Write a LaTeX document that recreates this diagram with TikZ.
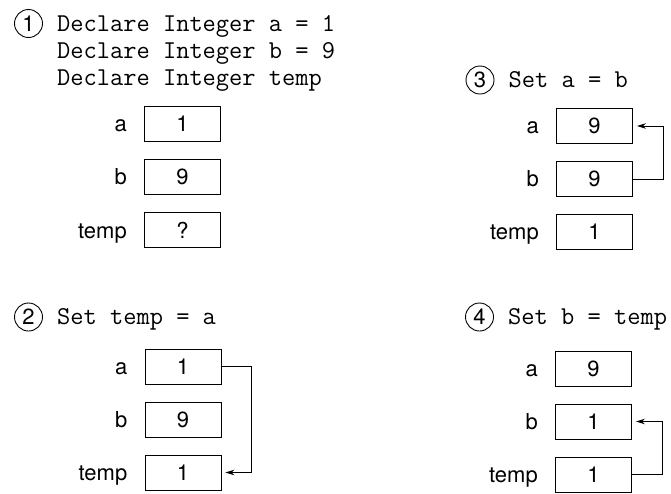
\documentclass[tikz,border=0pt]{standalone}
\usepackage{fontspec}
\setmainfont{TeX Gyre Heros}
\usetikzlibrary{positioning,arrows.meta}

\tikzset{
  var/.style={draw, line width=0.9pt, minimum width=76pt, minimum height=35pt,
    inner sep=0pt, font=\fontsize{22}{26}\selectfont},
  vname/.style={inner sep=0pt, font=\fontsize{22}{26}\selectfont},
  code/.style={inner sep=0pt, anchor=base west, font=\fontsize{25.7}{27}\selectfont\ttfamily},
  stepnum/.style={draw, circle, line width=0.9pt, minimum size=28pt, inner sep=0pt,
    font=\fontsize{22}{25}\selectfont},
  move/.style={line width=0.9pt, -{Stealth[length=9pt,width=5.5pt]}, shorten >=4pt},
}

\begin{document}
\begin{tikzpicture}[x=1pt,y=-1pt]
\useasboundingbox (0,0) rectangle (671,493);

% step 1
\node[stepnum] (n1) at (28.5,23.5) {1};
\node[code, base right=14pt of n1] (c1) {Declare Integer a = 1};
\node[code] (c1b) at ([yshift=-27pt]c1.base west) {Declare Integer b = 9};
\node[code] (c1c) at ([yshift=-27pt]c1b.base west) {Declare Integer temp};
\node[var] (a1) at (182.5,124) {1};
\node[var] (b1) at (182.5,177) {9};
\node[var] (t1) at (182.5,230) {?};
\node[vname, base left=17pt of a1] {a};
\node[vname, base left=17pt of b1] {b};
\node[vname, base left=17pt of t1] {temp};

% step 2
\node[stepnum] (n2) at (28.5,317) {2};
\node[code, base right=14pt of n2] (c2) {Set temp = a};
\node[var] (a2) at (183,366.5) {1};
\node[var] (b2) at (183,419.5) {9};
\node[var] (t2) at (183,472.5) {1};
\node[vname, base left=17pt of a2] {a};
\node[vname, base left=17pt of b2] {b};
\node[vname, base left=17pt of t2] {temp};
\draw[move] (a2.east) -- ++(30,0) |- (t2.east);

% step 3
\node[stepnum] (n3) at (480,80) {3};
\node[code, base right=14pt of n3] (c3) {Set a = b};
\node[var] (a3) at (594.5,126) {9};
\node[var] (b3) at (594.5,179) {9};
\node[var] (t3) at (594.5,232) {1};
\node[vname, base left=17pt of a3] {a};
\node[vname, base left=17pt of b3] {b};
\node[vname, base left=17pt of t3] {temp};
\draw[move] (b3.east) -- ++(30,0) |- (a3.east);

% step 4
\node[stepnum] (n4) at (479.5,317) {4};
\node[code, base right=14pt of n4] (c4) {Set b = temp};
\node[var] (a4) at (593.5,369) {9};
\node[var] (b4) at (593.5,421.5) {1};
\node[var] (t4) at (593.5,474.5) {1};
\node[vname, base left=17pt of a4] {a};
\node[vname, base left=17pt of b4] {b};
\node[vname, base left=17pt of t4] {temp};
\draw[move] (t4.east) -- ++(30,0) |- (b4.east);
\end{tikzpicture}
\end{document}
